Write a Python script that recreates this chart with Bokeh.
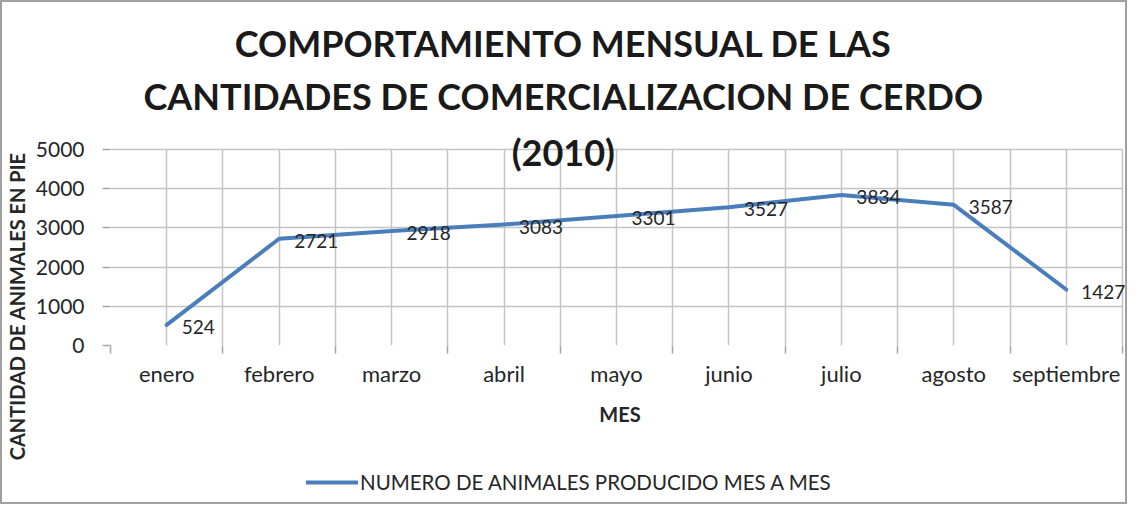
import math
from bokeh.plotting import figure
from bokeh.layouts import column
from bokeh.models import FixedTicker, Label, LabelSet, Legend, LegendItem, ColumnDataSource, Grid
from bokeh.core.properties import value
from bokeh.embed import file_html
from bokeh.resources import INLINE

# ---- data ----
meses = ["enero", "febrero", "marzo", "abril", "mayo", "junio", "julio", "agosto", "septiembre"]
animales = [524, 2721, 2918, 3083, 3301, 3527, 3834, 3587, 1427]
y_ticks = [0, 1000, 2000, 3000, 4000, 5000]
titulo = ["COMPORTAMIENTO MENSUAL DE LAS",
          "CANTIDADES DE COMERCIALIZACION DE CERDO",
          "(2010)"]
eje_y = "CANTIDAD DE ANIMALES EN PIE"
eje_x = "MES"
serie = "NUMERO DE ANIMALES PRODUCIDO MES A MES"

FONT = "Lato"
TXT = "#262626"
GRID = "#c4c4c4"
BLUE = "#4A7EBB"
BORDER = "2px solid #a0a0a0"

n = len(meses)
ymax = y_ticks[-1]
xs = list(range(1, n + 1))
half_ticks = [i / 2 for i in range(1, 2 * n + 2)]
bounds = [i + 0.5 for i in range(0, n + 1)]

# layout geometry (content pixels of the main figure)
W, H1, H2 = 1127, 460, 44
FL = 108                          # frame left
FRAME_BOTTOM = 341                # y = 0 line
PX_X = 112.0                      # px per category
PX_Y = 195.0 / ymax               # px per unit
CONTENT_W, CONTENT_H = W - 4, H1 - 2
frame_w = CONTENT_W - FL
x_end = 0.5 + frame_w / PX_X
y_end = FRAME_BOTTOM / PX_Y

def dx(cx):   # content x -> data x
    return 0.5 + (cx - FL) / PX_X
def dy(cy):   # content y -> data y
    return (FRAME_BOTTOM - cy) / PX_Y

p = figure(width=W, height=H1, x_range=(0.5, x_end), y_range=(0, y_end),
           output_backend="svg", toolbar_location=None, title=None,
           min_border_left=FL, min_border_right=0, min_border_top=0,
           min_border_bottom=CONTENT_H - FRAME_BOTTOM)
p.outline_line_color = None
p.background_fill_color = "white"
p.border_fill_color = "white"
p.styles = {"border-top": BORDER, "border-left": BORDER, "border-right": BORDER}

# grids limited to the plotting area
p.xgrid.ticker = FixedTicker(ticks=half_ticks)
p.ygrid.ticker = FixedTicker(ticks=y_ticks)
has_cb = "cross_bounds" in Grid.properties()
for g in (p.xgrid, p.ygrid):
    g.grid_line_color = GRID
    g.grid_line_width = 1.5
if has_cb:
    p.xgrid.cross_bounds = (0, ymax)
    p.ygrid.cross_bounds = (0.5, n + 0.5)
else:
    p.xgrid.visible = False
    p.ygrid.visible = False
    p.segment(x0=half_ticks, y0=[0] * len(half_ticks), x1=half_ticks, y1=[ymax] * len(half_ticks),
              line_color=GRID, line_width=1.5)
    p.segment(x0=[0.5] * len(y_ticks), y0=y_ticks, x1=[n + 0.5] * len(y_ticks), y1=y_ticks,
              line_color=GRID, line_width=1.5)

# x axis
xa = p.xaxis[0]
xa.ticker = FixedTicker(ticks=xs, minor_ticks=bounds)
xa.bounds = (0.5, n + 0.5)
xa.major_label_overrides = {i + 1: m for i, m in enumerate(meses)}
xa.major_tick_out = 0
xa.major_tick_in = 0
xa.minor_tick_out = 8
xa.minor_tick_in = 0
xa.minor_tick_line_color = "#a6a6a6"
xa.minor_tick_line_width = 1.5
xa.axis_line_color = None
xa.major_label_standoff = 6
xa.major_label_text_font = FONT
xa.major_label_text_font_size = "22px"
xa.major_label_text_color = TXT
xa.axis_label = eje_x
xa.axis_label_standoff = 12
xa.axis_label_text_font = FONT
xa.axis_label_text_font_style = "bold"
xa.axis_label_text_font_size = "20px"
xa.axis_label_text_color = TXT

# y axis
ya = p.yaxis[0]
ya.ticker = FixedTicker(ticks=y_ticks)
ya.bounds = (0, ymax)
ya.major_tick_out = 8
ya.major_tick_in = 0
ya.minor_tick_out = 0
ya.minor_tick_in = 0
ya.major_tick_line_color = "#a6a6a6"
ya.major_tick_line_width = 1.5
ya.axis_line_color = None
ya.major_label_standoff = 18
ya.major_label_text_font = FONT
ya.major_label_text_font_size = "21px"
ya.major_label_text_color = TXT

# y-axis title, placed in the left panel (not clipped by the frame)
p.add_layout(Label(x=dx(15), y=dy(302), text=eje_y, angle=math.pi / 2, text_align="center",
                   text_baseline="middle", text_font=FONT, text_font_style="bold",
                   text_font_size="20px", text_color=TXT), "left")

# series
p.line(xs, animales, line_color=BLUE, line_width=4, line_join="round", line_cap="round")

src = ColumnDataSource(dict(x=xs, y=animales, t=[str(v) for v in animales]))
p.add_layout(LabelSet(x="x", y="y", text="t", source=src, x_offset=15, y_offset=-2,
                      text_align="left", text_baseline="middle", text_font=value(FONT),
                      text_font_size="19px", text_color=TXT))

# title (inside the tall frame, so nothing clips it)
for line, cy in zip(titulo, [40, 93, 149]):
    p.add_layout(Label(x=dx(559), y=dy(cy), text=line, text_align="center", text_baseline="middle",
                       text_font=FONT, text_font_style="bold", text_font_size="36px",
                       text_color="#1a1a1a"))

# legend strip below the chart
p2 = figure(width=W, height=H2, x_range=(0, 1), y_range=(0, 1),
            output_backend="svg", toolbar_location=None, title=None,
            x_axis_location=None, y_axis_location=None, min_border=0)
p2.grid.visible = False
p2.outline_line_color = None
p2.background_fill_color = "white"
p2.border_fill_color = "white"
p2.styles = {"border-bottom": BORDER, "border-left": BORDER, "border-right": BORDER}
r2 = p2.line(xs, animales, line_color=BLUE, line_width=4, line_cap="round")
legend = Legend(items=[LegendItem(label=serie, renderers=[r2])], location=(196, 10),
                orientation="horizontal", padding=0, margin=0, spacing=0,
                label_standoff=2, glyph_width=52, glyph_height=20, label_height=20,
                border_line_color=None, background_fill_alpha=0,
                label_text_font=FONT, label_text_font_size="20.5px", label_text_color=TXT)
p2.add_layout(legend)

layout = column(p, p2, spacing=0)
open("out.html", "w").write(file_html(layout, INLINE))
